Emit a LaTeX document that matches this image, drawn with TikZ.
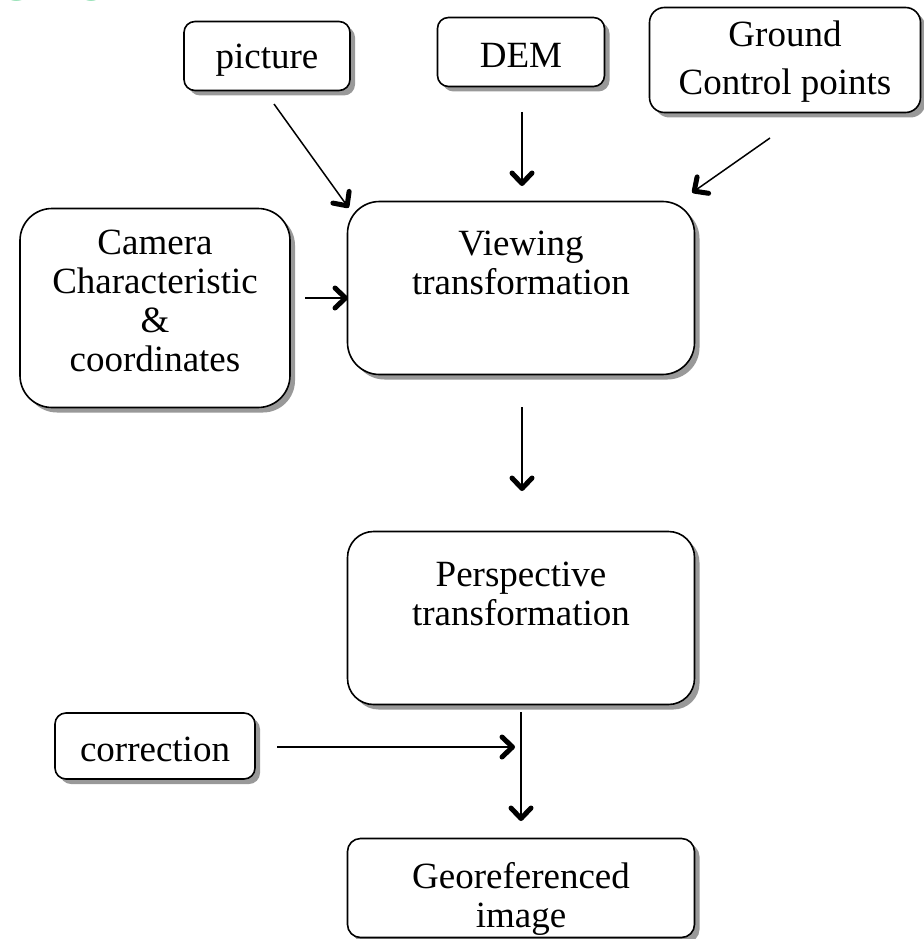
\documentclass[tikz,border=0pt]{standalone}
\usepackage{fontspec}
\setmainfont{Liberation Serif}
\newfontfamily\titlefont{Liberation Sans}
\usetikzlibrary{decorations.markings,shadows}
\definecolor{titlegreen}{RGB}{60,200,120}
\begin{document}
\begin{tikzpicture}[x=1pt,y=-1pt,
  box/.style={draw=black,line width=1.6pt,fill=white,
    drop shadow={shadow xshift=5pt,shadow yshift=-5pt,fill=black!40,opacity=1}},
  txt/.style={align=center,inner sep=0pt,font=\fontsize{37}{39}\selectfont},
  arr/.style={line width=1.5pt,postaction={decorate,decoration={markings,
    mark=at position 1 with {\draw[line width=5pt,line cap=round,line join=round]
      (-12pt,-10pt) -- (-1.5pt,0pt) -- (-12pt,10pt);}}}}]
\useasboundingbox (0,0) rectangle (923,939);
\fill[white] (0,0) rectangle (923,939);
% title fragment (cut by the top edge)
\begin{scope}
\clip (0,0) rectangle (300,6);
\node[anchor=base west,inner sep=0pt,text=titlegreen,font=\titlefont\bfseries\fontsize{52}{52}\selectfont] (title) at (-4,1) {GEOREFERENCING};
\end{scope}
% boxes
\node[box,rounded corners=11pt,minimum width=166pt,minimum height=69pt] (pic) at (267,56) {};
\node[txt] (pict) at (267,60) {picture};
\node[box,rounded corners=11pt,minimum width=167pt,minimum height=69pt] (dem) at (521,52) {};
\node[txt] (demt) at (521,55) {DEM};
\node[box,rounded corners=15pt,minimum width=271pt,minimum height=105pt] (gcp) at (785,60) {};
\node[txt,font=\fontsize{37}{48}\selectfont] (gcpt) at (785,62) {Ground\\Control points};
\node[box,rounded corners=32pt,minimum width=270pt,minimum height=199pt] (cam) at (155,308) {};
\node[txt] (camt) at (155,301) {Camera\\Characteristic\\\&\\coordinates};
\node[box,rounded corners=32pt,minimum width=347pt,minimum height=173pt] (view) at (521,288) {};
\node[txt,anchor=north] (viewt) at (521,231) {Viewing\\transformation};
\node[box,rounded corners=26pt,minimum width=347pt,minimum height=173pt] (pers) at (521,618) {};
\node[txt,anchor=north] (perst) at (521,562) {Perspective\\transformation};
\node[box,rounded corners=11pt,minimum width=200pt,minimum height=66pt] (corr) at (155,746) {};
\node[txt] (corrt) at (155,749) {correction};
\node[box,rounded corners=13pt,minimum width=347pt,minimum height=99pt] (geo) at (521,888) {};
\node[txt] (geot) at (521,899) {Georeferenced\\image};
% connector end points
\coordinate (a1) at (274,104);
\coordinate (a1e) at (348,207);
\coordinate (a2) at (522,112);
\coordinate (a2e) at (522,185);
\coordinate (a3) at (770,138);
\coordinate (a3e) at (693,192);
\coordinate (a4) at (305,298);
\coordinate (a4e) at (347,298);
\coordinate (a5) at (522,407);
\coordinate (a5e) at (522,490);
\coordinate (a6) at (277,747);
\coordinate (a6e) at (514,747);
\coordinate (a7) at (521,712);
\coordinate (a7e) at (521,820);
\draw[arr] (a1) -- (a1e);
\draw[arr] (a2) -- (a2e);
\draw[arr] (a3) -- (a3e);
\draw[arr] (a4) -- (a4e);
\draw[arr] (a5) -- (a5e);
\draw[arr] (a6) -- (a6e);
\draw[arr] (a7) -- (a7e);
\end{tikzpicture}
\end{document}
